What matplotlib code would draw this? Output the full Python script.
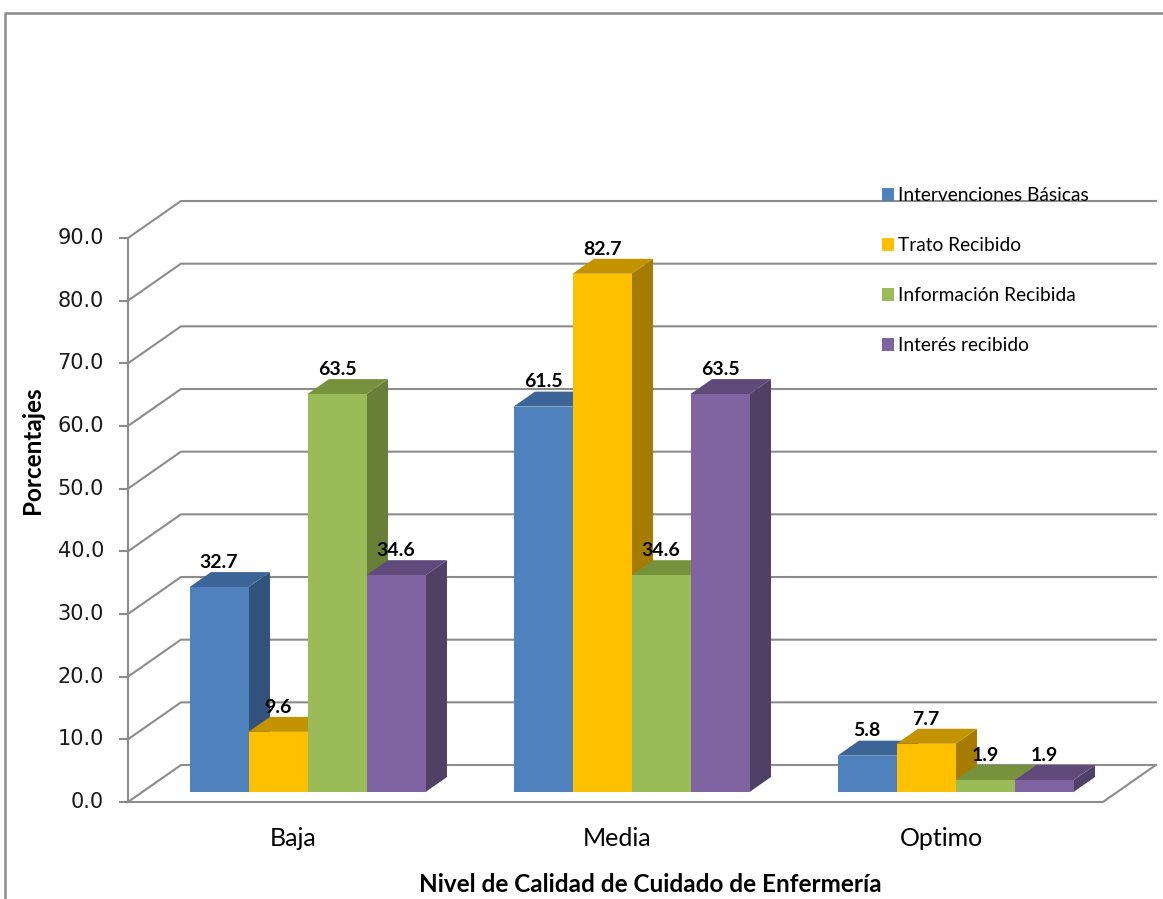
import numpy as np
import matplotlib.pyplot as plt
from matplotlib.patches import Polygon, Patch
from matplotlib.lines import Line2D

# ===== datos =====
categories = ['Baja', 'Media', 'Optimo']
series = ['Intervenciones Básicas', 'Trato Recibido', 'Información Recibida', 'Interés recibido']
intervenciones = [32.7, 61.5, 5.8]
trato = [9.6, 82.7, 7.7]
informacion = [63.5, 34.6, 1.9]
interes = [34.6, 63.5, 1.9]
yticks = np.arange(0, 91, 10)

values = [intervenciones, trato, informacion, interes]
front_colors = ['#4F81BD', '#FFC000', '#9BBB59', '#8064A2']
top_colors = ['#3B6597', '#C49400', '#76923C', '#604A7B']
side_colors = ['#31527B', '#A67C00', '#677F36', '#514066']

# ===== geometria del falso 3D (unidades: categoria en x, porcentaje en y) =====
PX = 324.0            # pixeles por categoria
PY = 564.0 / 90       # pixeles por punto porcentual
DX = 53 / PX          # profundidad de la pared en x
DY = 37 / PY          # profundidad de la pared en y
d0, d1 = 0.27, 0.675  # profundidad de las barras
w = 59 / PX           # ancho de barra
xl, xr = -0.51, 2.499  # borde frontal del piso
grid_c = '#8C8C8C'

plt.rcParams['font.family'] = ['Lato', 'DejaVu Sans']

fig = plt.figure(figsize=(11.63, 8.99), dpi=100)
ax = fig.add_axes([0, 0, 1, 1])
ax.set_xlim(-293.2 / PX, (1163 - 293.2) / PX)
ax.set_ylim((802 - 899) / PY, 802 / PY)
ax.axis('off')


def P(x, v, d):
    return (x + DX * d, v + DY * d)


# paredes y rejilla
for v in yticks:
    ax.plot([xl, xl + DX, xr + DX], [v, v + DY, v + DY], color=grid_c, lw=1.5, zorder=1)
    ax.plot([xl - 8 / PX, xl], [v, v], color=grid_c, lw=1.5, zorder=1)
    ax.text(xl - 24 / PX, v, f'{v:.1f}', ha='right', va='center', fontsize=15,
            family='DejaVu Sans', color='#1a1a1a')
ax.plot([xl, xl], [0, yticks[-1]], color=grid_c, lw=1.5, zorder=1)
ax.plot([xl, xr, xr + DX], [0, 0, DY], color=grid_c, lw=1.5, zorder=1)

# barras
z = 2
for i in range(len(categories)):
    for j, vals in enumerate(values):
        v = vals[i]
        x0 = i - 2 * w + j * w
        front = [P(x0, 0, d0), P(x0 + w, 0, d0), P(x0 + w, v, d0), P(x0, v, d0)]
        top = [P(x0, v, d0), P(x0 + w, v, d0), P(x0 + w, v, d1), P(x0, v, d1)]
        side = [P(x0 + w, 0, d0), P(x0 + w, v, d0), P(x0 + w, v, d1), P(x0 + w, 0, d1)]
        ax.add_patch(Polygon(side, closed=True, fc=side_colors[j], ec='none', zorder=z))
        ax.add_patch(Polygon(top, closed=True, fc=top_colors[j], ec='none', zorder=z))
        ax.add_patch(Polygon(front, closed=True, fc=front_colors[j], ec='none', zorder=z))
        z += 1
        lx, ly = P(x0 + w / 2, v, d1)
        ax.text(x0 + w / 2 + DX * d0, ly + 0.2, f'{v:.1f}', ha='center', va='bottom',
                fontsize=14, fontweight='bold', zorder=50)
    ax.text(i, -5.9, categories[i], ha='center', va='center', fontsize=18)

# titulos de ejes
fig.text(650 / 1163, 1 - 885 / 899, 'Nivel de Calidad de Cuidado de Enfermería',
         ha='center', va='center', fontsize=17.5, fontweight='bold')
fig.text(33 / 1163, 1 - 450 / 899, 'Porcentajes', ha='center', va='center',
         rotation=90, fontsize=17.5, fontweight='bold')

# leyenda
handles = [Patch(facecolor=c, edgecolor='none') for c in front_colors]
ax.legend(handles, series, loc='upper left', bbox_to_anchor=(882 / 1163, 1 - 187 / 899),
          bbox_transform=fig.transFigure, frameon=False, fontsize=13.8,
          handlelength=0.65, handleheight=0.65, handletextpad=0.2,
          labelspacing=1.72, borderpad=0, borderaxespad=0)

# marco exterior
fig.add_artist(Line2D([5 / 1163, 5 / 1163, 1.0], [0, 1 - 13 / 899, 1 - 13 / 899],
                      transform=fig.transFigure, color='#8C8C8C', lw=1.8))

fig.savefig('out.png', dpi=100)
